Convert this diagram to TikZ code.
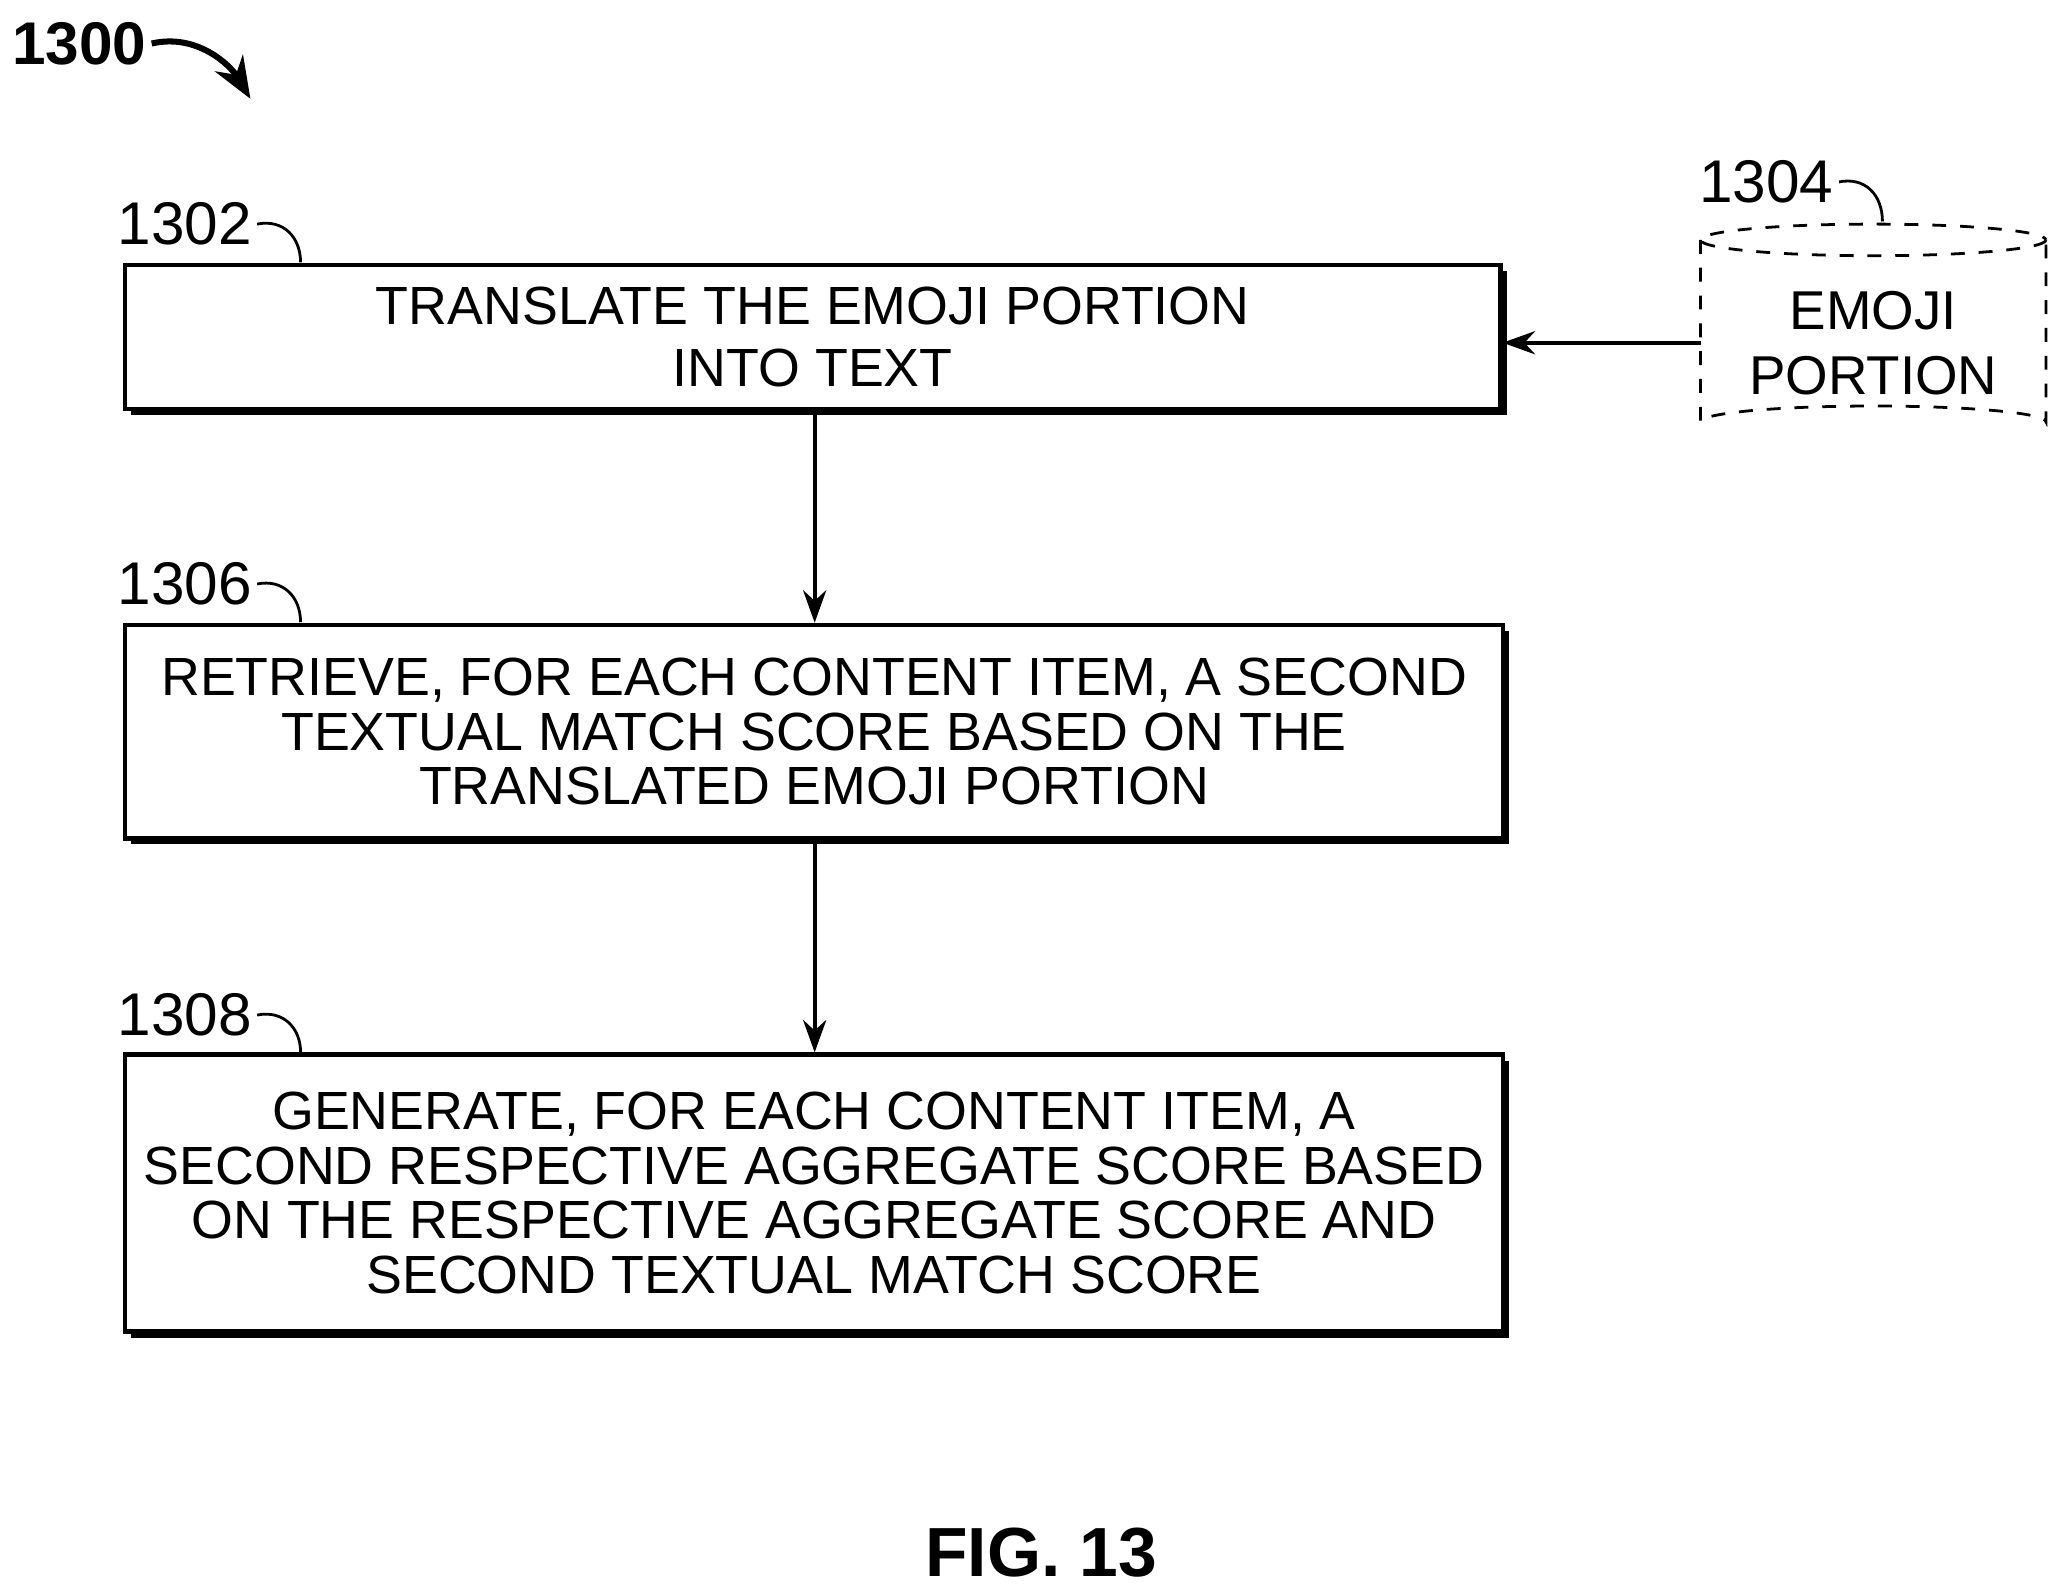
\documentclass[tikz,border=0pt]{standalone}
\usepackage{fontspec}
\setmainfont{Liberation Sans}
\usetikzlibrary{arrows.meta,shadows}
\begin{document}
\begin{tikzpicture}[x=0.01cm,y=-0.01cm,
  box/.style={draw,line width=0.9pt,fill=white,inner sep=0pt,align=center,font=\fontsize{11.6}{11.8}\selectfont,
    drop shadow={shadow xshift=1.3pt,shadow yshift=-1.3pt,fill=black,opacity=1}},
  lbl/.style={font=\fontsize{13}{15}\selectfont},
  arr/.style={-{Stealth[length=7pt,width=5pt]},line width=0.8pt}]
\useasboundingbox (0,0) rectangle (1568,1206);
\node[box, minimum width=10.43cm, minimum height=1.09cm, font=\fontsize{11.6}{13.3}\selectfont] (b1) at (616.5,255.5) {TRANSLATE THE EMOJI PORTION\\INTO TEXT};
\node[box, minimum width=10.45cm, minimum height=1.62cm] (b2) at (617.5,555) {RETRIEVE, FOR EACH CONTENT ITEM, A SECOND\\TEXTUAL MATCH SCORE BASED ON THE\\TRANSLATED EMOJI PORTION};
\node[box, minimum width=10.45cm, minimum height=2.10cm] (b3) at (617.5,905) {GENERATE, FOR EACH CONTENT ITEM, A\\SECOND RESPECTIVE AGGREGATE SCORE BASED\\ON THE RESPECTIVE AGGREGATE SCORE AND\\SECOND TEXTUAL MATCH SCORE};
% cylinder
\draw[dashed,line width=0.6pt] (1290,182) -- (1290,320) arc[start angle=180,end angle=360,x radius=131,y radius=12] -- (1552,182);
\draw[dashed,line width=0.6pt] (1421,182) ellipse[x radius=131,y radius=12];
\node[align=center,font=\fontsize{11.8}{14}\selectfont] (db) at (1421,260) {EMOJI\\PORTION};
\coordinate (dbl) at (1290,260);
\draw[arr] (dbl) -- (b1.east|-dbl);
\draw[arr] (b1.south-|618,0) -- (b2.north-|618,0);
\draw[arr] (b2.south-|618,0) -- (b3.north-|618,0);
% labels
\node[lbl,inner sep=1pt] (l1) at (140,170) {1302};
\draw[line width=0.6pt] (l1.east) .. controls (215,166) and (228,180) .. (228,199);
\node[lbl,inner sep=1pt] (l2) at (140,443) {1306};
\draw[line width=0.6pt] (l2.east) .. controls (215,439) and (228,453) .. (228,472);
\node[lbl,inner sep=1pt] (l3) at (140,770) {1308};
\draw[line width=0.6pt] (l3.east) .. controls (215,766) and (228,780) .. (228,798);
\node[lbl,inner sep=1pt] (l4) at (1340,138) {1304};
\draw[line width=0.6pt] (l4.east) .. controls (1415,134) and (1428,148) .. (1428,168);
\node[font=\bfseries\fontsize{13}{15}\selectfont,inner sep=1pt] (t) at (60,33) {1300};
\coordinate (te) at (190,75);
\draw[-{Stealth[length=9pt,width=7pt]},line width=1.3pt] (t.east) .. controls (150,25) and (175,50) .. (te);
\node[font=\bfseries\fontsize{15}{17}\selectfont] (fig) at (790,1178) {FIG. 13};
\end{tikzpicture}
\end{document}
